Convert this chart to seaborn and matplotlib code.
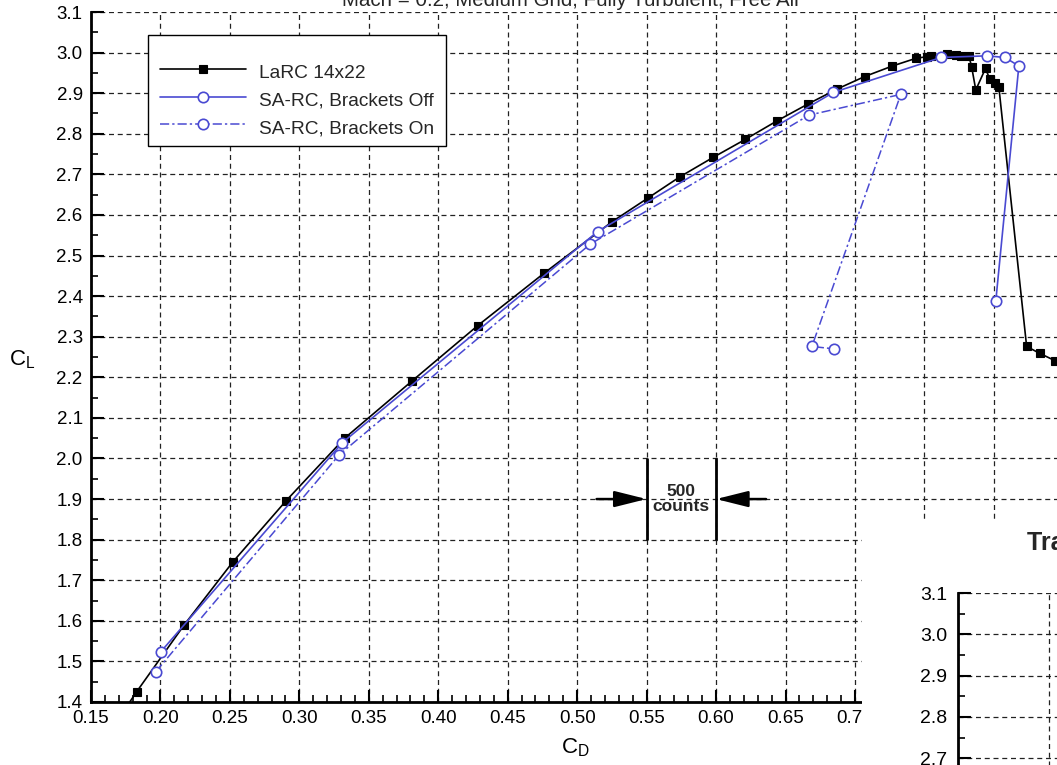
import matplotlib
matplotlib.use("Agg")
import matplotlib.pyplot as plt
from matplotlib.patches import Rectangle
from matplotlib.ticker import MultipleLocator, FormatStrFormatter, FuncFormatter
import seaborn as sns

# ---- data -------------------------------------------------------------
larc_cd = [0.172, 0.1828, 0.2171, 0.2521, 0.2905, 0.3326, 0.3808, 0.4283,
           0.4760, 0.5250, 0.5507, 0.5740, 0.5980, 0.6210, 0.6440, 0.6660,
           0.6870, 0.7070, 0.7270, 0.7440, 0.7520, 0.7550, 0.7660, 0.7730,
           0.7760, 0.7820, 0.7840, 0.7870, 0.7940, 0.7970, 0.8006, 0.8036,
           0.8236, 0.8330, 0.8440]
larc_cl = [1.370, 1.425, 1.590, 1.745, 1.896, 2.050, 2.190, 2.327,
           2.456, 2.583, 2.641, 2.694, 2.742, 2.786, 2.832, 2.873,
           2.910, 2.941, 2.967, 2.986, 2.990, 2.991, 2.996, 2.994,
           2.992, 2.992, 2.965, 2.908, 2.961, 2.935, 2.926, 2.915,
           2.276, 2.259, 2.241]

off_cd = [0.2003, 0.3310, 0.5147, 0.6845, 0.7620, 0.7950, 0.8080, 0.8180, 0.8014]
off_cl = [1.524, 2.039, 2.559, 2.902, 2.988, 2.992, 2.988, 2.967, 2.388]

on_cd = [0.1967, 0.3287, 0.5094, 0.6670, 0.7330, 0.6690, 0.6850]
on_cl = [1.475, 2.009, 2.528, 2.846, 2.897, 2.276, 2.270]

series_labels = ["LaRC 14x22", "SA-RC, Brackets Off", "SA-RC, Brackets On"]

# 500-count bracket (1 count = 0.0001 in C_D)
bracket_cd = [0.55, 0.60]
bracket_cl = [1.8, 2.0]
bracket_mid = 1.9

title_text = "Mach = 0.2, Medium Grid, Fully Turbulent, Free Air"
inset_title = "Trap Wing"

# ---- style ------------------------------------------------------------
sns.set_theme(style="white")
plt.rcParams["font.family"] = ["Liberation Sans", "DejaVu Sans"]

W, H = 1057, 765
BLUE = "#4a4ad2"
GRID_LS = (0, (4, 3))


def px_box(left, top, right, bottom):
    return [left / W, 1 - bottom / H, (right - left) / W, (bottom - top) / H]


fig = plt.figure(figsize=(W / 100, H / 100), dpi=100)
fig.patch.set_facecolor("white")

# main polar: axes run on past the right edge of the figure
ax = fig.add_axes(px_box(91, 12, 91 + 15 * 69.45, 702))
ax.set_facecolor("white")

sns.lineplot(x=larc_cd, y=larc_cl, sort=False, estimator=None, ax=ax,
             color="black", lw=1.2, marker="s", markersize=5.8,
             markerfacecolor="black", markeredgecolor="black",
             markeredgewidth=0.8, label=series_labels[0])
sns.lineplot(x=off_cd, y=off_cl, sort=False, estimator=None, ax=ax,
             color=BLUE, lw=1.2, marker="o", markersize=7.5,
             markerfacecolor="white", markeredgecolor=BLUE,
             markeredgewidth=1.2, label=series_labels[1])
sns.lineplot(x=on_cd, y=on_cl, sort=False, estimator=None, ax=ax,
             color=BLUE, lw=1.1, linestyle=(0, (6, 2, 1.5, 2)), marker="o",
             markersize=7.5, markerfacecolor="white", markeredgecolor=BLUE,
             markeredgewidth=1.2, label=series_labels[2])

ax.set_xlim(0.15, 0.90)
ax.set_ylim(1.4, 3.1)
ax.xaxis.set_major_locator(MultipleLocator(0.05))
ax.xaxis.set_minor_locator(MultipleLocator(0.01))
ax.yaxis.set_major_locator(MultipleLocator(0.1))
ax.yaxis.set_minor_locator(MultipleLocator(0.05))
# labels past 0.70 sit under the second panel
ax.xaxis.set_major_formatter(
    FuncFormatter(lambda v, _: f"{v:.2f}" if v < 0.701 else ""))
ax.yaxis.set_major_formatter(FormatStrFormatter("%.1f"))

ax.grid(True, which="major", color="#222222", linestyle=GRID_LS, linewidth=0.9)
for side in ("top", "right"):
    ax.spines[side].set_visible(False)
for side in ("left", "bottom"):
    ax.spines[side].set_color("black")
    ax.spines[side].set_linewidth(2)
ax.tick_params(which="both", direction="in", colors="black",
               left=True, bottom=True, top=False, right=False)
ax.tick_params(which="major", length=9, width=1.5, labelsize=13.5, pad=6)
ax.tick_params(which="minor", length=5, width=1.2)

ax.set_xlabel(r"C$_\mathregular{D}$", fontsize=16, va="center", color="black")
ax.xaxis.set_label_coords((575 - 91) / 1042, (702 - 748) / 690)
ax.set_ylabel(r"C$_\mathregular{L}$", fontsize=16, rotation=0,
              va="center", ha="center", color="black")
ax.yaxis.set_label_coords((22 - 91) / 1042, (702 - 360) / 690)

# legend: entries without frame, boxed by a separate outline
leg_box = Rectangle((148 / W, 1 - 146 / H), (446 - 148) / W, (146 - 35) / H,
                    transform=fig.transFigure, facecolor="white",
                    edgecolor="black", linewidth=1.0, zorder=4.9,
                    clip_on=False)
ax.add_patch(leg_box)
leg = ax.legend(loc="upper left",
                bbox_to_anchor=((160 - 91) / 1042, (702 - 60) / 690),
                frameon=False, fontsize=13.8, handlelength=4.5,
                handletextpad=0.68, handleheight=1.45, labelspacing=0.26,
                borderpad=0, borderaxespad=0)
leg.set_zorder(5)

# 500-count scale bracket
ax.vlines(bracket_cd, bracket_cl[0], bracket_cl[1], color="black", lw=2)
arrow_kw = dict(arrowstyle="-|>,head_length=1.4,head_width=0.35",
                color="black", lw=1.8, mutation_scale=14,
                shrinkA=0, shrinkB=0)
ax.annotate("", xy=(bracket_cd[0], bracket_mid), xytext=(0.514, bracket_mid),
            arrowprops=arrow_kw)
ax.annotate("", xy=(bracket_cd[1], bracket_mid), xytext=(0.636, bracket_mid),
            arrowprops=arrow_kw)
ax.text(sum(bracket_cd) / 2, bracket_mid, "500\ncounts", ha="center",
        va="center", fontsize=12.5, fontweight="bold", linespacing=0.95)

fig.text(572 / W, 1.0, title_text, ha="center", va="center", fontsize=14.8)

# second panel overlapping the lower right corner
fig.add_artist(Rectangle((862 / W, 0), 1 - 862 / W, (H - 520) / H,
                         transform=fig.transFigure, facecolor="white",
                         edgecolor="none", zorder=5))
ax2 = fig.add_axes(px_box(958, 593, 958 + 300, 593 + 41.3 * 8))
ax2.set_zorder(6)
ax2.set_facecolor("white")
ax2.set_xlim(0.15, 0.315)
ax2.set_ylim(2.3, 3.1)
ax2.xaxis.set_major_locator(MultipleLocator(0.05))
ax2.yaxis.set_major_locator(MultipleLocator(0.1))
ax2.yaxis.set_minor_locator(MultipleLocator(0.05))
ax2.yaxis.set_major_formatter(FormatStrFormatter("%.1f"))
ax2.grid(True, which="major", color="#222222", linestyle=GRID_LS, linewidth=0.9)
for side in ("top", "right", "bottom"):
    ax2.spines[side].set_visible(False)
ax2.spines["left"].set_color("black")
ax2.spines["left"].set_linewidth(2)
ax2.tick_params(which="both", direction="in", colors="black",
                left=True, bottom=False, labelbottom=False)
ax2.tick_params(which="major", length=9, width=1.5, labelsize=14, pad=8)
ax2.tick_params(which="minor", length=5, width=1.2)
fig.text(1027 / W, 1 - 543 / H, inset_title, ha="left", va="center",
         fontsize=18, fontweight="bold", zorder=7)

fig.savefig("out.png", dpi=100, facecolor="white")
